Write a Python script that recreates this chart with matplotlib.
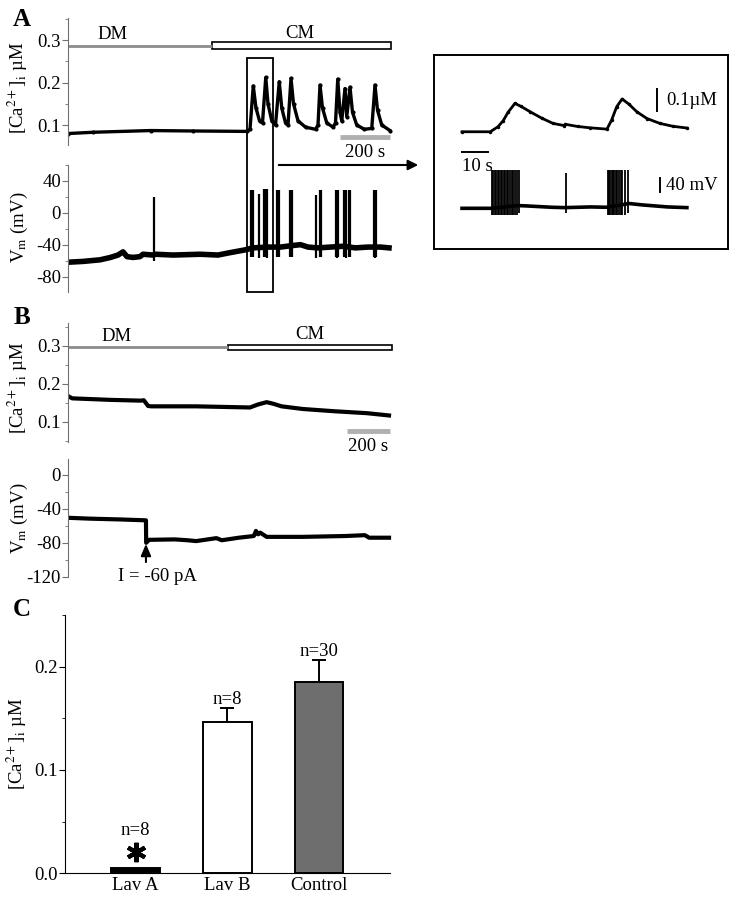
import numpy as np
import matplotlib
matplotlib.use("Agg")
import matplotlib.pyplot as plt
from matplotlib.patches import Rectangle, FancyArrowPatch
from matplotlib.ticker import MultipleLocator

plt.rcParams['font.family'] = ['Liberation Serif', 'DejaVu Serif']
plt.rcParams['mathtext.fontset'] = 'stix'
plt.rcParams['axes.unicode_minus'] = False
FS = 13.5

# ---- panel A, [Ca2+]i trace (time s, uM)
A_CA_T = [0, 100, 330, 500, 716, 728, 741, 752, 766, 778, 791, 800, 815, 830, 845, 855, 870, 880,
          892, 902, 920, 950, 990, 1000, 1008, 1018, 1035, 1060, 1070, 1079, 1088, 1095, 1108, 1115,
          1128, 1138, 1155, 1185, 1215, 1228, 1238, 1255, 1288]
A_CA_V = [0.080, 0.083, 0.087, 0.086, 0.085, 0.090, 0.192, 0.140, 0.110, 0.105, 0.212, 0.150, 0.110,
          0.100, 0.202, 0.140, 0.105, 0.100, 0.210, 0.150, 0.110, 0.095, 0.090, 0.100, 0.194, 0.140,
          0.105, 0.095, 0.105, 0.208, 0.130, 0.110, 0.186, 0.120, 0.189, 0.130, 0.100, 0.090, 0.092,
          0.194, 0.135, 0.100, 0.087]

# ---- panel A, Vm trace (time s, mV)
A_VM_T = [0, 60, 128, 170, 200, 220, 236, 260, 288, 300, 340, 350, 420, 528, 600, 648, 700, 716,
          740, 800, 850, 900, 930, 960, 1000, 1050, 1100, 1150, 1200, 1250, 1284]
A_VM_V = [-62, -61, -59, -56, -53, -49, -55, -56, -55, -52, -53, -52, -53, -52, -53, -50, -47, -46,
          -44, -43, -43, -41, -40, -43, -44, -43, -42, -44, -43, -43, -44]
A_SPK_T = [344, 733, 737, 741, 764, 782, 786, 790, 794, 837, 841, 845, 886, 890, 894, 992, 1006, 1010,
           1073, 1077, 1081, 1102, 1106, 1110, 1122, 1126, 1223, 1227, 1231]
A_SPK_TOP = [20, 28, 28, 28, 24, 30, 30, 30, 30, 28, 28, 28, 28, 28, 28, 22, 28, 28,
             28, 28, 28, 28, 28, 28, 28, 28, 28, 28, 28]
A_SPK_BOT = [-60, -55, -56, -55, -57, -55, -56, -55, -57, -55, -56, -55, -55, -56, -55, -57, -55, -56,
             -55, -57, -55, -56, -55, -57, -55, -56, -55, -57, -55]

# ---- inset (time s, delta uM / delta mV)
IN_CA_T = [0, 11, 14, 16, 18, 20.6, 23, 26.5, 31, 35.4, 39.8, 40.2, 45, 49.8, 56.4, 58.2, 60.2,
           62.3, 65, 68, 72, 77, 82, 87.5]
IN_CA_V = [0, 0, 0.023, 0.05, 0.09, 0.129, 0.115, 0.091, 0.062, 0.038, 0.028, 0.034, 0.024, 0.018,
           0.012, 0.053, 0.114, 0.149, 0.125, 0.091, 0.060, 0.038, 0.025, 0.017]
IN_VM_T = [0, 11.5, 21.5, 25, 30, 35, 40, 45, 50, 56.5, 65, 70, 75, 80, 87.5]
IN_VM_V = [0, 0, 8, 7, 5, 3, 2, 3, 4, 3, 14, 10, 7, 4, 2]
IN_SPK_T = [11.6, 12.2, 12.8, 13.3, 13.9, 14.5, 15.0, 15.6, 16.2, 16.8, 17.4, 18.0, 18.6, 19.3,
            20.0, 20.6, 21.3, 22.3, 40.3, 56.7, 57.2, 57.7, 58.2, 58.7, 59.2, 59.8, 60.4, 61.0,
            61.7, 62.4, 63.4, 64.7]
IN_SPK_TOP = [112] * 18 + [104] + [112] * 13
IN_SPK_BOT = [-20] * 17 + [-13, -14] + [-20] * 12 + [-13]

# ---- panel B
B_CA_T = [0, 20, 200, 340, 355, 375, 390, 600, 852, 890, 930, 960, 1000, 1100, 1250, 1400, 1503]
B_CA_V = [0.167, 0.161, 0.157, 0.155, 0.156, 0.141, 0.140, 0.140, 0.137, 0.145, 0.151, 0.147,
          0.140, 0.133, 0.127, 0.122, 0.116]
B_VM_T = [0, 100, 250, 365, 366, 380, 500, 560, 600, 695, 720, 800, 870, 880, 890, 900, 930, 1100,
          1300, 1390, 1410, 1503]
B_VM_V = [-50.5, -51.5, -52.5, -53.5, -80, -76.5, -76, -77, -78, -74.5, -77, -74, -72, -66, -70, -68,
          -73, -73, -72, -71, -74, -74]

# ---- panel C
groups = ['Lav A', 'Lav B', 'Control']
means = [0.005, 0.146, 0.185]
errs = [0.0, 0.014, 0.021]
n_labels = ['n=8', 'n=8', 'n=30']
bar_colors = ['black', 'white', '#6e6e6e']

W, H = 735, 899
fig = plt.figure(figsize=(W / 100, H / 100), dpi=100)


def px_axes(x0, y0, x1, y1):
    return fig.add_axes([x0 / W, 1 - y1 / H, (x1 - x0) / W, (y1 - y0) / H])


def trace_style(ax, ylim, major, minor, ticks_color='#707070'):
    for s in ['top', 'right', 'bottom']:
        ax.spines[s].set_visible(False)
    ax.spines['left'].set_color(ticks_color)
    ax.set_ylim(*ylim)
    ax.set_xticks([])
    ax.yaxis.set_major_locator(MultipleLocator(major))
    ax.yaxis.set_minor_locator(MultipleLocator(minor))
    ax.tick_params(axis='y', which='major', length=4, color=ticks_color, labelsize=FS, pad=1)
    ax.tick_params(axis='y', which='minor', length=2.5, color=ticks_color)
    ax.patch.set_alpha(0)


gray = '#8c8c8c'
ca_label = r'[Ca$^{2+}$]$_\mathrm{i}$ µM'
vm_label = r'V$_\mathrm{m}$ (mV)'

# ===== A: Ca
axA1 = px_axes(68, 18, 392, 145)
axA1.plot(A_CA_T, A_CA_V, color='black', lw=2.4, marker='.', ms=4)
trace_style(axA1, (0.053, 0.352), 0.1, 0.05)
axA1.set_yticks([0.1, 0.2, 0.3])
axA1.set_xlim(0, 1296)
axA1.plot([0, 576], [0.286, 0.286], color=gray, lw=2, solid_capstyle='butt', clip_on=False)
axA1.add_patch(Rectangle((576, 0.279), 716, 0.016, facecolor='white', edgecolor='black', lw=1.2,
                         clip_on=False))
axA1.text(180, 0.312, 'DM', fontsize=FS, ha='center', va='center')
axA1.text(928, 0.316, 'CM', fontsize=FS, ha='center', va='center')
axA1.plot([1088, 1288], [0.0725, 0.0725], color='#b0b0b0', lw=3.5, solid_capstyle='butt')
axA1.text(1188, 0.0365, '200 s', fontsize=FS, ha='center', va='center', clip_on=False)
axA1.set_ylabel(ca_label, fontsize=FS)
axA1.yaxis.set_label_coords(-0.118, 0.45)

# ===== A: Vm
axA2 = px_axes(68, 165, 392, 291.7)
axA2.plot(A_VM_T, A_VM_V, color='black', lw=4)
axA2.vlines(A_SPK_T, A_SPK_BOT, A_SPK_TOP, color='black', lw=1.6)
trace_style(axA2, (-99, 60), 40, 20)
axA2.set_xlim(0, 1296)
axA2.set_ylabel(vm_label, fontsize=FS)
axA2.yaxis.set_label_coords(-0.118, 0.51)

# zoom box and arrow
fig.add_artist(Rectangle((247 / W, 1 - 291.7 / H), 26 / W, (291.7 - 58) / H, transform=fig.transFigure,
                         fill=False, edgecolor='black', lw=1.3))
fig.add_artist(FancyArrowPatch((276 / W, 1 - 165 / H), (421 / W, 1 - 165 / H), transform=fig.transFigure,
                               arrowstyle='-|>,head_length=6,head_width=3', color='black', lw=1.5))

# ===== inset
axI1 = px_axes(434, 55, 728, 249)
axI1.plot(IN_CA_T, IN_CA_V, color='black', lw=2, marker='.', ms=3)
axI1.set_xlim(-10.9, 103.5)
axI1.set_ylim(-0.533, 0.349)
axI1.set_xticks([])
axI1.set_yticks([])
for s in axI1.spines.values():
    s.set_linewidth(1.4)
axI1.plot([75.9, 75.9], [0.094, 0.194], color='black', lw=1.4)
axI1.text(79.6, 0.144, '0.1µM', fontsize=FS, ha='left', va='center')
axI1.plot([0, 10], [-0.091, -0.091], color='black', lw=1.4)
axI1.text(0, -0.159, '10 s', fontsize=FS, ha='left', va='center')

axI2 = px_axes(434, 55, 728, 249)
axI2.plot(IN_VM_T, IN_VM_V, color='black', lw=2.6)
axI2.vlines(IN_SPK_T, IN_SPK_BOT, IN_SPK_TOP, color='black', lw=1.3)
axI2.set_xlim(-10.9, 103.5)
axI2.set_ylim(-118.8, 447.6)
axI2.axis('off')
axI2.plot([77, 77], [48.5, 88.5], color='black', lw=1.4)
axI2.text(79.4, 68, '40 mV', fontsize=FS, ha='left', va='center')

# ===== B: Ca
axB1 = px_axes(68, 322.7, 392, 441.7)
axB1.plot(B_CA_T, B_CA_V, color='black', lw=3)
trace_style(axB1, (0.047, 0.36), 0.1, 0.05)
axB1.set_yticks([0.1, 0.2, 0.3])
axB1.set_xlim(0, 1517)
axB1.plot([0, 749], [0.2955, 0.2955], color=gray, lw=2, solid_capstyle='butt', clip_on=False)
axB1.add_patch(Rectangle((749, 0.287), 767, 0.014, facecolor='white', edgecolor='black', lw=1.2,
                         clip_on=False))
axB1.text(229, 0.325, 'DM', fontsize=FS, ha='center', va='center')
axB1.text(1132, 0.330, 'CM', fontsize=FS, ha='center', va='center')
axB1.plot([1306, 1506], [0.0745, 0.0745], color='#b0b0b0', lw=3.5, solid_capstyle='butt')
axB1.text(1404, 0.035, '200 s', fontsize=FS, ha='center', va='center', clip_on=False)
axB1.set_ylabel(ca_label, fontsize=FS)
axB1.yaxis.set_label_coords(-0.118, 0.45)

# ===== B: Vm
axB2 = px_axes(68, 459.3, 392, 576.7)
axB2.plot(B_VM_T, B_VM_V, color='black', lw=3)
trace_style(axB2, (-120, 18.5), 40, 20)
axB2.set_xlim(0, 1517)
axB2.annotate('', xy=(365, -78), xytext=(365, -106),
              arrowprops=dict(arrowstyle='-|>,head_length=0.7,head_width=0.3', color='black', lw=1.5))
axB2.text(417, -119.6, 'I = -60 pA', fontsize=FS, ha='center', va='center', clip_on=False)
axB2.set_ylabel(vm_label, fontsize=FS)
axB2.yaxis.set_label_coords(-0.118, 0.5)

# ===== C
axC = px_axes(65, 615, 390, 873.3)
xpos = np.arange(1, len(groups) + 1)
axC.bar(xpos, means, width=0.53, color=bar_colors, edgecolor='black', lw=1.4, zorder=2)
for x, m, e in zip(xpos, means, errs):
    if e > 0:
        axC.errorbar(x, m, yerr=[[0], [e]], color='black', capsize=5, elinewidth=1.4,
                     capthick=1.4, zorder=1)
axC.text(xpos[0], 0.041, n_labels[0], fontsize=FS, ha='center', va='center')
axC.plot(xpos[0], 0.0205, marker=(6, 2, 0), ms=14, mew=3, color='black')
for x, m, e, lab in zip(xpos[1:], means[1:], errs[1:], n_labels[1:]):
    axC.text(x, m + e + 0.0085, lab, fontsize=FS, ha='center', va='center')
axC.set_xlim(0.231, 3.775)
axC.set_ylim(0, 0.25)
axC.spines['top'].set_visible(False)
axC.spines['right'].set_visible(False)
axC.set_xticks(xpos)
axC.set_xticklabels(groups, fontsize=FS)
axC.tick_params(axis='x', length=0, pad=3)
axC.set_yticks([0.0, 0.1, 0.2])
axC.set_yticklabels(['0.0', '0.1', '0.2'])
axC.yaxis.set_minor_locator(MultipleLocator(0.05))
axC.tick_params(axis='y', which='major', length=4, labelsize=FS, pad=1)
axC.tick_params(axis='y', which='minor', length=2.5)
axC.set_ylabel(ca_label, fontsize=FS)
axC.yaxis.set_label_coords(-0.11, 0.5)

# panel letters
for lab, x, y in [('A', 22, 19), ('B', 22, 318), ('C', 22, 610)]:
    fig.text(x / W, 1 - y / H, lab, fontsize=18, fontweight='bold', ha='center', va='center')

fig.savefig('out.png', dpi=100)
